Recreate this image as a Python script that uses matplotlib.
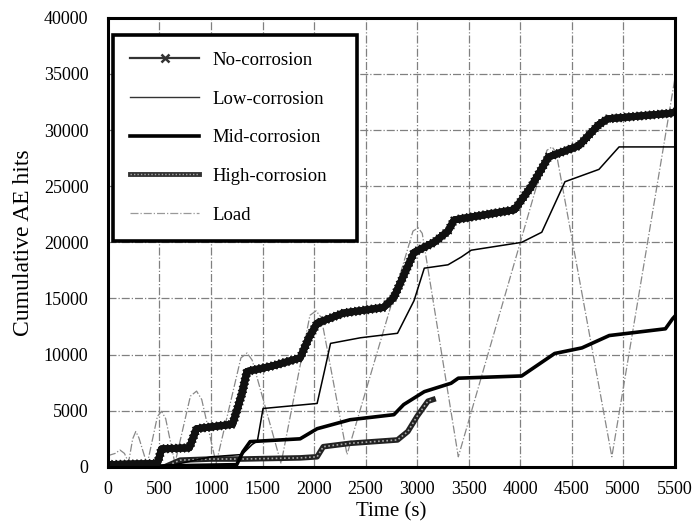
import matplotlib.pyplot as plt
import matplotlib.patheffects as pe
import numpy as np

plt.rcParams['font.family'] = ['Liberation Serif', 'DejaVu Serif']

# No-corrosion
no_t = [0, 480, 520, 790, 860, 1210, 1300, 1350, 1600, 1865, 1950, 2030, 2285, 2675, 2775,
        2970, 3165, 3300, 3360, 3945, 4110, 4275, 4570, 4765, 4850, 5460, 5500]
no_v = [200, 300, 1600, 1700, 3400, 3800, 6500, 8500, 9000, 9700, 11500, 12800, 13700, 14200,
        15100, 19100, 20000, 21000, 22000, 22900, 25000, 27600, 28600, 30500, 31000, 31500, 31600]

# Low-corrosion
low_t = [550, 1000, 1300, 1400, 1450, 1505, 2030, 2100, 2160, 2450, 2810, 2970, 3070, 3300,
         3430, 3525, 4015, 4210, 4435, 4765, 4960, 5500]
low_v = [0, 900, 1100, 2000, 2300, 5200, 5650, 8500, 11000, 11500, 11900, 14800, 17700, 18000,
         18700, 19300, 20000, 20900, 25400, 26500, 28500, 28500]

# Mid-corrosion
mid_t = [0, 1250, 1310, 1380, 1865, 2030, 2350, 2775, 2870, 3070, 3330, 3400, 4015, 4335,
         4600, 4865, 5410, 5480, 5500]
mid_v = [0, 200, 1350, 2250, 2500, 3400, 4200, 4650, 5550, 6700, 7450, 7900, 8100, 10100,
         10600, 11700, 12300, 13200, 13400]

# High-corrosion
high_t = [550, 700, 1000, 1300, 1865, 2030, 2090, 2350, 2810, 2910, 3000, 3105, 3155]
high_v = [0, 600, 700, 700, 800, 900, 1800, 2100, 2400, 3150, 4500, 5850, 6000]

# Load
load_t = [0, 70, 117, 160, 200, 240, 270, 300, 380, 480, 520, 560, 650, 800, 860, 910, 1050,
          1290, 1350, 1400, 1680, 1960, 2020, 2070, 2320, 2960, 3010, 3050, 3400, 4260, 4310,
          4350, 4890, 5500]
load_v = [1000, 1200, 1500, 1200, 400, 2500, 3150, 2600, 200, 4500, 4950, 4300, 300, 6300, 6750,
          6000, 300, 9700, 10150, 9500, 300, 13500, 13900, 13300, 1100, 21000, 21300, 20800,
          900, 28200, 28500, 28000, 900, 34500]

fig = plt.figure(figsize=(6.92, 5.24), dpi=100)
ax = fig.add_axes([0.156, 0.109, 0.819, 0.857])

ax.grid(True, linestyle='-.', color='#808080', linewidth=0.9)
ax.set_axisbelow(True)

load_line, = ax.plot(load_t, load_v, color='#888888', linestyle='-.', linewidth=0.9)
high_base, = ax.plot(high_t, high_v, color='#222222', linewidth=4)
high_dots, = ax.plot(high_t, high_v, color='#aaaaaa', linewidth=1.2, linestyle=(0, (1, 1.5)))
mid_line, = ax.plot(mid_t, mid_v, color='black', linewidth=2.6)
low_line, = ax.plot(low_t, low_v, color='black', linewidth=1.1)
no_line, = ax.plot(no_t, no_v, color='#111111', linewidth=5)
no_line.set_path_effects([pe.withTickedStroke(angle=60, spacing=3, length=1.0, linewidth=1.3),
                          pe.withTickedStroke(angle=-60, spacing=3, length=1.0, linewidth=1.3),
                          pe.Normal()])

# legend handles
no_h, = ax.plot([], [], color='#333333', linewidth=1.6, marker='x', markersize=6,
                markeredgewidth=1.8)
low_h, = ax.plot([], [], color='#333333', linewidth=1.0)
mid_h, = ax.plot([], [], color='black', linewidth=2.6)
high_h1, = ax.plot([], [], color='#333333', linewidth=3.5)
high_h2, = ax.plot([], [], color='#aaaaaa', linewidth=1.0, linestyle=(0, (1, 1.5)))
load_h, = ax.plot([], [], color='#999999', linestyle='-.', linewidth=0.9)

leg = ax.legend([no_h, low_h, mid_h, (high_h1, high_h2), load_h],
                ['No-corrosion', 'Low-corrosion', 'Mid-corrosion', 'High-corrosion', 'Load'],
                loc='upper left', bbox_to_anchor=(0.009, 0.505, 0.43, 0.457), mode='expand',
                borderaxespad=0, fontsize=13.5, handlelength=3.7, labelspacing=1.15,
                borderpad=0.9, handletextpad=0.7,
                fancybox=False, framealpha=1, edgecolor='black')
leg.get_frame().set_linewidth(2.6)

ax.set_xlim(0, 5500)
ax.set_ylim(0, 40000)
ax.set_xticks(np.arange(0, 5501, 500))
ax.set_yticks(np.arange(0, 40001, 5000))
ax.tick_params(length=0, labelsize=13)
ax.tick_params(axis='x', pad=10)
ax.tick_params(axis='y', pad=14)
for s in ax.spines.values():
    s.set_linewidth(2.2)

ax.set_xlabel('Time (s)', fontsize=15, labelpad=3)
ax.set_ylabel('Cumulative AE hits', fontsize=17, labelpad=7)

fig.savefig('out.png', dpi=100)
